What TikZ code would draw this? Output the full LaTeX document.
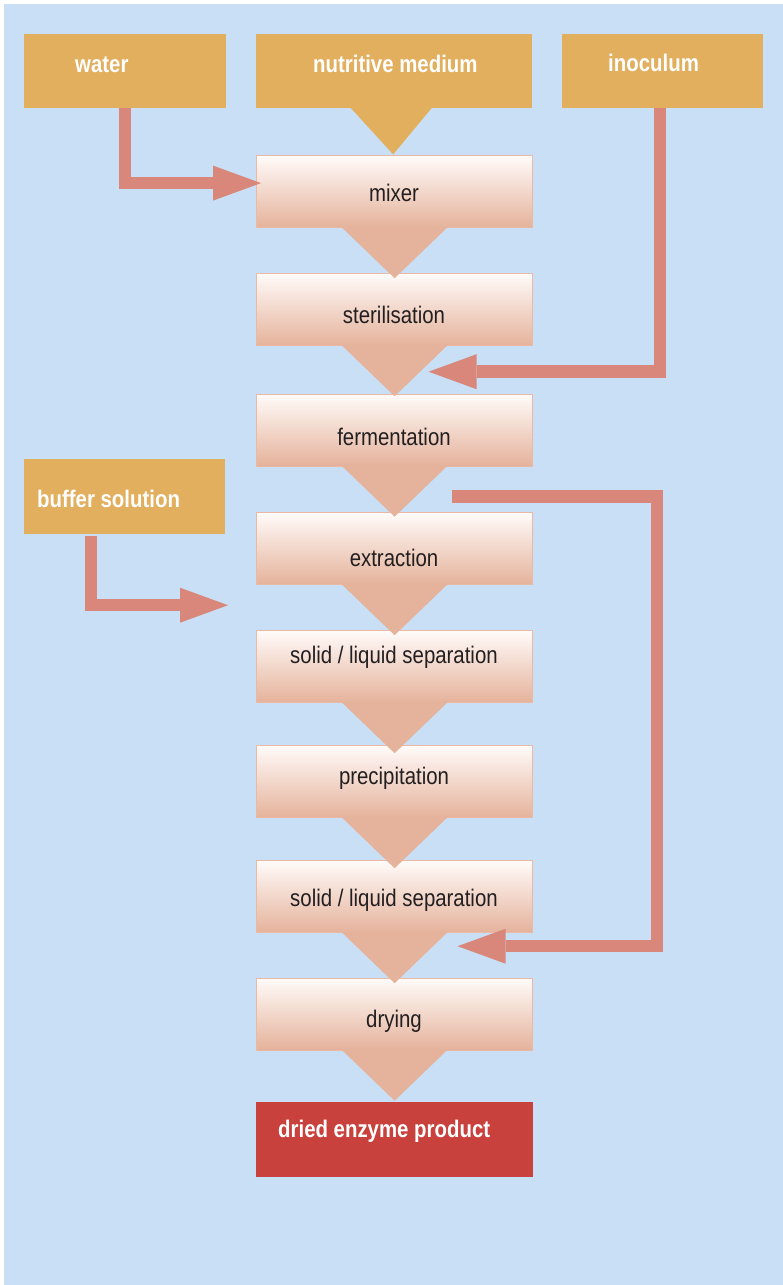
\documentclass[tikz,border=0pt]{standalone}
\usepackage{fontspec}
\setmainfont{Liberation Sans}[FakeStretch=0.85]
\usepackage{xcolor}
\usepackage{tikz}
\usetikzlibrary{calc,arrows.meta}
\definecolor{bgblue}{HTML}{C8DFF5}
\definecolor{ochre}{HTML}{E2AF5F}
\definecolor{brick}{HTML}{C8413C}
\definecolor{salmon}{HTML}{D8877A}
\definecolor{stagetop}{HTML}{FFFBF9}
\definecolor{stagemid}{HTML}{F2DACE}
\definecolor{stagebot}{HTML}{E5B29B}
\definecolor{stageline}{HTML}{EBB9A3}
\definecolor{ink}{HTML}{231F20}
\tikzset{
  stagebox/.style={rectangle, anchor=north west, minimum width=276pt, minimum height=72pt,
    top color=stagetop, middle color=stagemid, bottom color=stagebot, draw=stageline, line width=1.2pt},
  feed/.style={rectangle, anchor=north west, fill=ochre, minimum height=74pt, inner sep=0pt},
  product/.style={rectangle, anchor=north west, fill=brick, minimum width=277pt, minimum height=75pt, inner sep=0pt},
  funnel/.style={fill=stagebot},
  flow/.style={draw=salmon, line width=12.5pt, line join=miter,
    -{Triangle[length=48pt 0 0, width=35pt 0 0, line width=0pt 0 0]}},
  steptxt/.style={anchor=base, text=ink, font=\fontsize{24}{28}\selectfont},
  feedtxt/.style={anchor=base west, inner sep=0pt, text=white, font=\fontsize{24}{28}\selectfont\bfseries},
}

\begin{document}
\begin{tikzpicture}[x=1pt, y={(0pt,-1pt)}]
  \useasboundingbox (0,0) rectangle (783,1285);
  \fill[bgblue] (4,4) rectangle (783,1285);

  % process column
  \node[stagebox] (mixer)  at (256,155) {};
  \node[stagebox] (steril) at (256,273) {};
  \node[stagebox] (ferm)   at (256,393.5) {};
  \node[stagebox] (extr)   at (256,512) {};
  \node[stagebox] (sep1)   at (256,630) {};
  \node[stagebox] (precip) at (256,745) {};
  \node[stagebox] (sep2)   at (256,860) {};
  \node[stagebox] (drying) at (256,977.5) {};
  \node[product]  (enzyme) at (256,1102) {};

  % funnels between the stages
  \fill[funnel] ($(mixer.south)+(-53,-1)$)  -- ($(mixer.south)+(53,-1)$)  -- ($(mixer.south)+(0,50)$)  -- cycle;
  \fill[funnel] ($(steril.south)+(-53,-1)$) -- ($(steril.south)+(53,-1)$) -- ($(steril.south)+(0,50)$) -- cycle;
  \fill[funnel] ($(ferm.south)+(-53,-1)$)   -- ($(ferm.south)+(53,-1)$)   -- ($(ferm.south)+(0,50)$)   -- cycle;
  \fill[funnel] ($(extr.south)+(-53,-1)$)   -- ($(extr.south)+(53,-1)$)   -- ($(extr.south)+(0,50)$)   -- cycle;
  \fill[funnel] ($(sep1.south)+(-53,-1)$)   -- ($(sep1.south)+(53,-1)$)   -- ($(sep1.south)+(0,50)$)   -- cycle;
  \fill[funnel] ($(precip.south)+(-53,-1)$) -- ($(precip.south)+(53,-1)$) -- ($(precip.south)+(0,50)$) -- cycle;
  \fill[funnel] ($(sep2.south)+(-53,-1)$)   -- ($(sep2.south)+(53,-1)$)   -- ($(sep2.south)+(0,50)$)   -- cycle;
  \fill[funnel] ($(drying.south)+(-53,-1)$) -- ($(drying.south)+(53,-1)$) -- ($(drying.south)+(0,50)$) -- cycle;

  % inputs
  \node[feed, minimum width=202pt] (water)  at (24,34) {};
  \node[feed, minimum width=276pt] (medium) at (256,34) {};
  \node[feed, minimum width=201pt] (inoc)   at (562,34) {};
  \node[feed, minimum width=201pt, minimum height=75pt] (buffer) at (24,459) {};
  \fill[ochre] ($(medium.south)+(-44,-1)$) -- ($(medium.south)+(38,-1)$) -- ($(medium.south)+(-1,46)$) -- cycle;

  % feed lines
  \coordinate (wtip)  at ($(mixer.west)+(5,-8.5)$);
  \coordinate (itip)  at ($(steril.south)+(34,25.5)$);
  \coordinate (btip)  at ($(extr.south west)+(-28,20)$);
  \coordinate (rfrom) at ($(ferm.south)+(57,30)$);
  \coordinate (rtip)  at ($(sep2.south)+(63,13)$);
  \coordinate (rturn) at (657,0);
  \draw[flow] (water.south) |- (wtip);
  \draw[flow] ($(inoc.south)+(-2.5,0)$) |- (itip);
  \draw[flow] ($(buffer.south)+(-33.5,2)$) |- (btip);
  \draw[flow] (rfrom) -| (rtip -| rturn) -- (rtip);

  % texts
  \node[feedtxt] (waterlab)  at (75,72)   {water};
  \node[feedtxt] (mediumlab) at (313,72)  {nutritive medium};
  \node[feedtxt] (inoclab)   at (608,71)  {inoculum};
  \node[feedtxt] (bufferlab) at (37,507)  {buffer solution};
  \node[feedtxt] (enzymelab) at (278,1137) {dried enzyme product};
  \node[steptxt] (mixerlab)  at (394,201)  {mixer};
  \node[steptxt] (sterillab) at (394,323)  {sterilisation};
  \node[steptxt] (fermlab)   at (394,445)  {fermentation};
  \node[steptxt] (extrlab)   at (394,566)  {extraction};
  \node[steptxt] (sep1lab)   at (394,663)  {solid / liquid separation};
  \node[steptxt] (preciplab) at (394,784)  {precipitation};
  \node[steptxt] (sep2lab)   at (394,906)  {solid / liquid separation};
  \node[steptxt] (dryinglab) at (394,1027) {drying};
\end{tikzpicture}
\end{document}
